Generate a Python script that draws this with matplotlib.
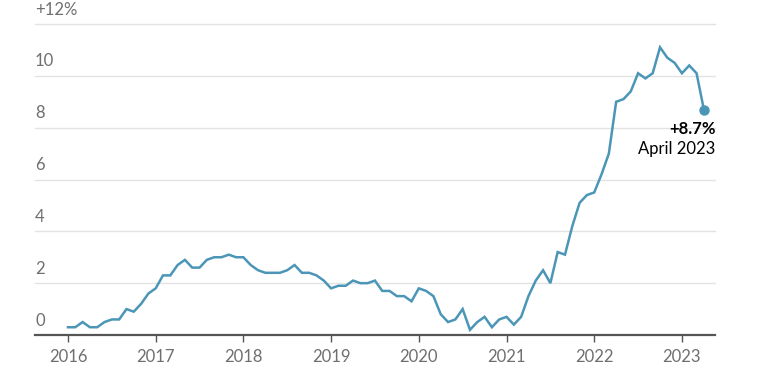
import numpy as np
import matplotlib.pyplot as plt
import matplotlib.transforms as mtransforms

# monthly inflation, Jan 2016 .. Apr 2023
rate_2016 = [0.3, 0.3, 0.5, 0.3, 0.3, 0.5, 0.6, 0.6, 1.0, 0.9, 1.2, 1.6]
rate_2017 = [1.8, 2.3, 2.3, 2.7, 2.9, 2.6, 2.6, 2.9, 3.0, 3.0, 3.1, 3.0]
rate_2018 = [3.0, 2.7, 2.5, 2.4, 2.4, 2.4, 2.5, 2.7, 2.4, 2.4, 2.3, 2.1]
rate_2019 = [1.8, 1.9, 1.9, 2.1, 2.0, 2.0, 2.1, 1.7, 1.7, 1.5, 1.5, 1.3]
rate_2020 = [1.8, 1.7, 1.5, 0.8, 0.5, 0.6, 1.0, 0.2, 0.5, 0.7, 0.3, 0.6]
rate_2021 = [0.7, 0.4, 0.7, 1.5, 2.1, 2.5, 2.0, 3.2, 3.1, 4.2, 5.1, 5.4]
rate_2022 = [5.5, 6.2, 7.0, 9.0, 9.1, 9.4, 10.1, 9.9, 10.1, 11.1, 10.7, 10.5]
rate_2023 = [10.1, 10.4, 10.1, 8.7]

years = [2016, 2017, 2018, 2019, 2020, 2021, 2022, 2023]
y_ticks = [0, 2, 4, 6, 8, 10, 12]
y_labels = ["0", "2", "4", "6", "8", "10", "+12%"]

LINE = "#4b96b7"
GRAY = "#6f6f6f"


def main():
    plt.rcParams['font.family'] = ['Lato', 'DejaVu Sans']
    rates = (rate_2016 + rate_2017 + rate_2018 + rate_2019 + rate_2020
             + rate_2021 + rate_2022 + rate_2023)
    x = 2016 + np.arange(len(rates)) / 12.0

    fig = plt.figure(figsize=(7.78, 3.75), dpi=100)
    ax = fig.add_axes([35/778, 40/375, 680/778, 311/375])

    ax.plot(x, rates, color=LINE, lw=1.8, solid_joinstyle='miter', zorder=3)
    ax.plot(x[-1], rates[-1], 'o', color=LINE, ms=6.5, zorder=4)

    ax.set_xlim(2015.624, 2023.377)
    ax.set_ylim(0, 12)

    for v in y_ticks[1:]:
        ax.axhline(v, color="#e3e3e3", lw=1, zorder=1, clip_on=False)
    trans = mtransforms.blended_transform_factory(ax.transAxes, ax.transData)
    for v, lab in zip(y_ticks, y_labels):
        ax.text(0.0, v + 0.25, lab, transform=trans, ha='left', va='bottom',
                fontsize=12, color=GRAY)

    for s in ['top', 'right', 'left']:
        ax.spines[s].set_visible(False)
    ax.spines['bottom'].set_color("#555555")
    ax.spines['bottom'].set_linewidth(1.6)
    ax.set_yticks([])
    ax.set_xticks(years)
    ax.set_xticklabels([str(y) for y in years], fontsize=12, color=GRAY)
    ax.tick_params(axis='x', length=5, width=1, color="#555555", pad=5)

    ax.text(2023.38, 7.65, "+8.7%", ha='right', va='bottom',
            fontsize=12, fontweight='bold', color='black')
    ax.text(2023.38, 6.85, "April 2023", ha='right', va='bottom',
            fontsize=12, color='black')

    fig.savefig("out.png", dpi=100)


if __name__ == "__main__":
    main()
